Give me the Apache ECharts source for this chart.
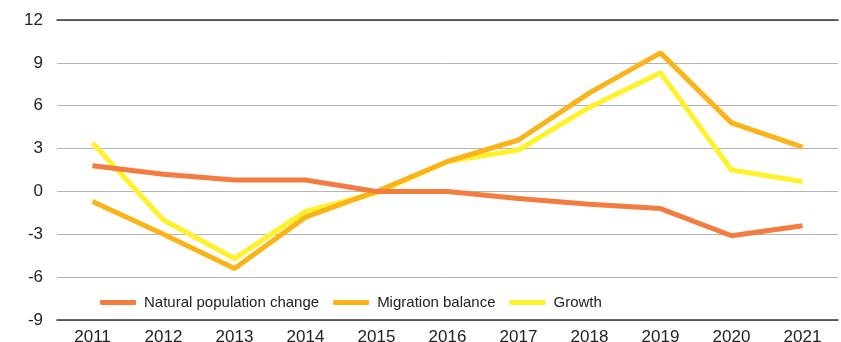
<!DOCTYPE html>
<html><head><meta charset="utf-8">
<script src="https://cdn.jsdelivr.net/npm/echarts@6/dist/echarts.min.js"></script>
<style>html,body{margin:0;padding:0;background:#fff}#c{width:841px;height:342px}</style>
</head><body><div id="c"></div>
<script>
const years = ['2011','2012','2013','2014','2015','2016','2017','2018','2019','2020','2021'];
const naturalChange = [1.8, 1.2, 0.8, 0.8, 0.0, 0.0, -0.5, -0.9, -1.2, -3.1, -2.4];
const migrationBalance = [-0.7, -3.0, -5.4, -1.8, 0.0, 2.1, 3.6, 6.9, 9.7, 4.8, 3.1];
const growth = [3.4, -2.0, -4.7, -1.4, -0.1, 2.1, 2.9, 5.9, 8.3, 1.5, 0.7];
const seriesNames = ['Natural population change', 'Migration balance', 'Growth'];
const colors = ['#f47c3e', '#fbb318', '#fff12a'];

const chart = echarts.init(document.getElementById('c'), null, {renderer:'canvas'});
const font = 'Liberation Sans, Arial, sans-serif';
chart.setOption({
  animation: false,
  grid: {left: 57, right: 3, top: 20, bottom: 22, containLabel: false, outerBoundsMode: 'none'},
  xAxis: [{
    type: 'category', data: years, boundaryGap: true,
    axisLine: {show: true, onZero: false, lineStyle: {color: '#333', width: 1.5}},
    axisTick: {show: false},
    axisLabel: {color: '#222', fontSize: 17, fontFamily: font, margin: 9}
  }, {
    type: 'category', data: years, position: 'top', boundaryGap: true,
    axisLine: {show: true, onZero: false, lineStyle: {color: '#333', width: 1.5}},
    axisTick: {show: false}, axisLabel: {show: false}
  }],
  yAxis: {
    type: 'value', min: -9, max: 12, interval: 3,
    axisLine: {show: false}, axisTick: {show: false},
    splitLine: {lineStyle: {color: '#b4b4b4', width: 1}},
    axisLabel: {color: '#222', fontSize: 17, fontFamily: font, margin: 14}
  },
  legend: {
    top: 290, left: 95,
    icon: 'roundRect', itemWidth: 36, itemHeight: 5, itemGap: 14,
    textStyle: {fontSize: 15, fontFamily: font, color: '#222', padding: [0,0,0,3]},
    data: seriesNames
  },
  series: [
    {name: seriesNames[0], type: 'line', data: naturalChange},
    {name: seriesNames[1], type: 'line', data: migrationBalance},
    {name: seriesNames[2], type: 'line', data: growth}
  ].map((s, i) => Object.assign(s, {
    showSymbol: false, symbol: 'none', color: colors[i],
    lineStyle: {width: 5, color: colors[i]}, z: 3 - i
  }))
});
</script></body></html>
